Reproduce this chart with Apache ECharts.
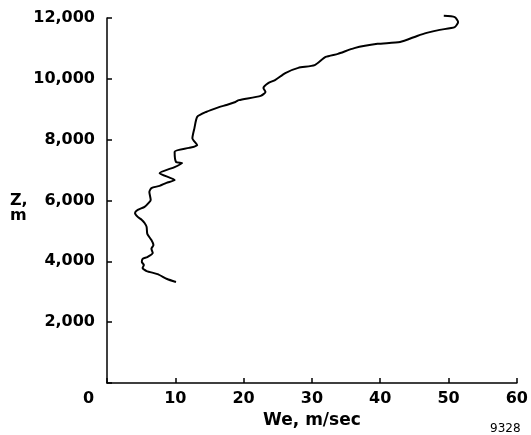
<!DOCTYPE html>
<html>
<head>
<meta charset="utf-8">
<script src="https://cdn.jsdelivr.net/npm/echarts@6/dist/echarts.min.js"></script>
<style>
  html, body { margin: 0; padding: 0; background: #fff; }
  #chart { width: 531px; height: 435px; }
</style>
</head>
<body>
<div id="chart"></div>
<script>
// We (m/sec) vs altitude Z (m), traced from bottom to top
const weSpeed = [
  10.1, 8.8, 7.4, 5.8, 5.2, 5.4, 5.1, 5.2, 5.9, 6.7, 6.5, 6.8, 6.5, 5.9, 5.8, 5.5, 5.1, 4.5, 4.1, 4.5,
  5.5, 6.1, 6.4, 6.2, 6.5, 7.7, 8.7, 9.9, 7.7, 9.9, 11.0, 10.1, 9.9, 12.0, 13.2, 12.5, 12.8, 13.2, 14.5, 16.4,
  17.5, 18.8, 19.3, 22.5, 23.2, 22.9, 23.6, 24.6, 26.1, 28.0, 30.4, 32.0, 33.8, 36.2, 39.6, 42.9, 45.4, 46.8, 48.7, 50.9,
  51.4, 50.9, 49.3
];
const altitude = [
  3320, 3420, 3580, 3680, 3780, 3880, 3980, 4080, 4140, 4270, 4410, 4540, 4700, 4900, 5130, 5260, 5360, 5460, 5590, 5690,
  5790, 5920, 6020, 6280, 6410, 6480, 6580, 6670, 6900, 7100, 7230, 7270, 7600, 7730, 7820, 8050, 8380, 8750, 8910, 9070,
  9140, 9240, 9300, 9440, 9570, 9700, 9860, 9960, 10190, 10360, 10450, 10720, 10820, 11010, 11150, 11210, 11410, 11510, 11610, 11700,
  11870, 12030, 12070
];
const xTicks = [10, 20, 30, 40, 50, 60];
const yTicks = [2000, 4000, 6000, 8000, 10000, 12000];

const chart = echarts.init(document.getElementById('chart'));
const labelFont = { color: '#000', fontFamily: 'DejaVu Sans', fontWeight: 'bold', fontSize: 16 };

chart.setOption({
  animation: false,
  backgroundColor: '#fff',
  grid: { left: 107, right: 11, top: 18, bottom: 52 },
  xAxis: {
    type: 'value',
    min: 0,
    max: 60,
    interval: 10,
    name: 'We, m/sec',
    nameLocation: 'middle',
    nameGap: 26,
    nameTextStyle: { ...labelFont, fontSize: 17, verticalAlign: 'top' },
    axisLine: { show: true, lineStyle: { color: '#000', width: 1.5 } },
    axisTick: { show: true, inside: true, length: 5, lineStyle: { color: '#000', width: 1.5 } },
    axisLabel: {
      ...labelFont,
      margin: 8,
      formatter: v => (xTicks.includes(v) ? String(v) : '')
    },
    splitLine: { show: false }
  },
  yAxis: {
    type: 'value',
    min: 0,
    max: 12000,
    interval: 2000,
    axisLine: { show: true, lineStyle: { color: '#000', width: 1.5 } },
    axisTick: { show: true, inside: true, length: 5, lineStyle: { color: '#000', width: 1.5 } },
    axisLabel: {
      ...labelFont,
      margin: 12,
      formatter: v => (yTicks.includes(v) ? v.toLocaleString('en-US') : '')
    },
    splitLine: { show: false }
  },
  graphic: [
    {
      type: 'text', left: 10, top: 193,
      style: { text: 'Z,\nm', font: 'bold 16px "DejaVu Sans"', fill: '#000', lineHeight: 15 }
    },
    {
      type: 'text', left: 83, top: 391,
      style: { text: '0', font: 'bold 16px "DejaVu Sans"', fill: '#000' }
    },
    {
      type: 'text', left: 490, top: 423,
      style: { text: '9328', font: '12px "DejaVu Sans"', fill: '#000' }
    }
  ],
  series: [{
    type: 'line',
    data: weSpeed.map((w, i) => [w, altitude[i]]),
    showSymbol: false,
    clip: false,
    smooth: 0.2,
    lineStyle: { color: '#000', width: 2 }
  }]
});
</script>
</body>
</html>
